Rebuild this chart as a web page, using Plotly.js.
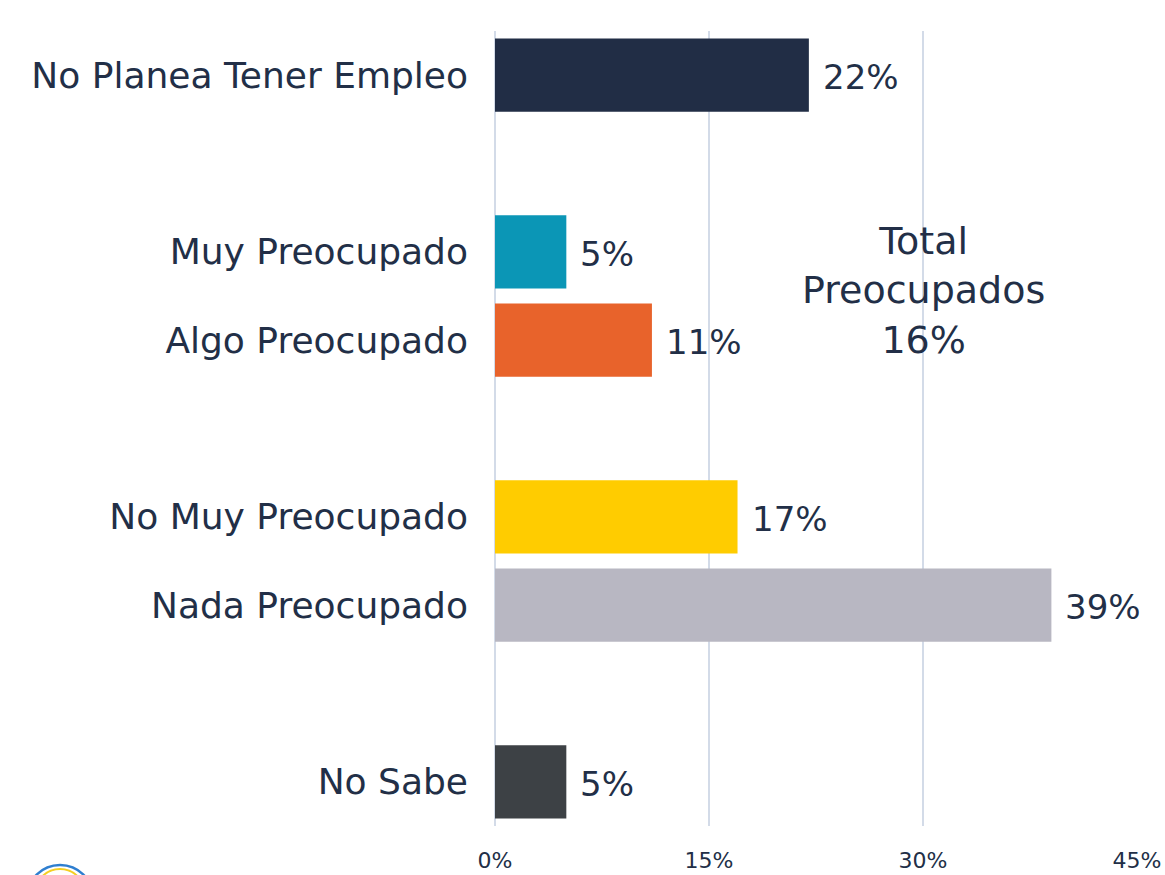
<!DOCTYPE html>
<html>
<head>
<meta charset="utf-8">
<script src="https://cdn.plot.ly/plotly-3.0.1.min.js"></script>
<style>html,body{margin:0;padding:0;background:#fff;}#chart{width:1165px;height:875px;}</style>
</head>
<body>
<div id="chart"></div>
<script>
// Category order top-to-bottom; blank entries are spacer slots
const categoryOrder = ["No Planea Tener Empleo", " ", "Muy Preocupado", "Algo Preocupado", "  ", "No Muy Preocupado", "Nada Preocupado", "   ", "No Sabe"];
const categories = ["No Planea Tener Empleo", "Muy Preocupado", "Algo Preocupado", "No Muy Preocupado", "Nada Preocupado", "No Sabe"];
const values = [22, 5, 11, 17, 39, 5];
const barColors = ["#212d45", "#0b96b6", "#e8632b", "#ffcc00", "#b8b7c2", "#3d4145"];
const xTickVals = [0, 15, 30, 45];
const xTickText = ["0%", "15%", "30%", "45%"];
const totalLabel = "Total<br>Preocupados<br>16%";

const textColor = "#222f47";
const FONT = "DejaVu Sans, sans-serif";

const valueAnnotations = categories.map((c, i) => ({
  x: values[i], y: c, xref: "x", yref: "y",
  text: values[i] + "%", showarrow: false,
  xanchor: "left", yanchor: "middle", xshift: 12, yshift: -2,
  font: {family: FONT, size: 34, color: textColor}
}));

const data = [{
  type: "bar", orientation: "h",
  y: categories, x: values,
  marker: {color: barColors},
  width: 0.83,
  hoverinfo: "none"
}];

const layout = {
  width: 1165, height: 875,
  margin: {l: 495, r: 28, t: 31, b: 49},
  paper_bgcolor: "#ffffff", plot_bgcolor: "#ffffff",
  showlegend: false,
  xaxis: {
    range: [0, 45],
    tickvals: xTickVals, ticktext: xTickText,
    showgrid: true, gridcolor: "#d3dbe8", gridwidth: 1.5,
    zeroline: true, zerolinecolor: "#d3dbe8", zerolinewidth: 1.5,
    showline: false, ticks: "", ticklabelstandoff: 19,
    tickfont: {family: FONT, size: 22, color: textColor},
    fixedrange: true
  },
  yaxis: {
    type: "category",
    categoryorder: "array", categoryarray: categoryOrder,
    autorange: "reversed",
    showgrid: false, zeroline: false, showline: false,
    ticks: "", ticklabelstandoff: 26,
    tickfont: {family: FONT, size: 36, color: textColor},
    fixedrange: true
  },
  annotations: valueAnnotations.concat([{
    x: 30, y: "Muy Preocupado", xref: "x", yref: "y",
    text: totalLabel, showarrow: false,
    xanchor: "center", yanchor: "middle", yshift: -39,
    align: "center",
    font: {family: FONT, size: 38, color: textColor}
  }]),
  shapes: [
    {type: "circle", xref: "paper", yref: "paper", x0: -0.729, x1: -0.626, y0: -0.132, y1: -0.049,
     line: {color: "#2f7fd0", width: 2.5}, fillcolor: "rgba(0,0,0,0)"},
    {type: "circle", xref: "paper", yref: "paper", x0: -0.7165, x1: -0.6386, y0: -0.117, y1: -0.0541,
     line: {color: "#f5cf22", width: 2}, fillcolor: "rgba(0,0,0,0)"}
  ]
};

Plotly.newPlot("chart", data, layout, {displayModeBar: false, staticPlot: true});
</script>
</body>
</html>
